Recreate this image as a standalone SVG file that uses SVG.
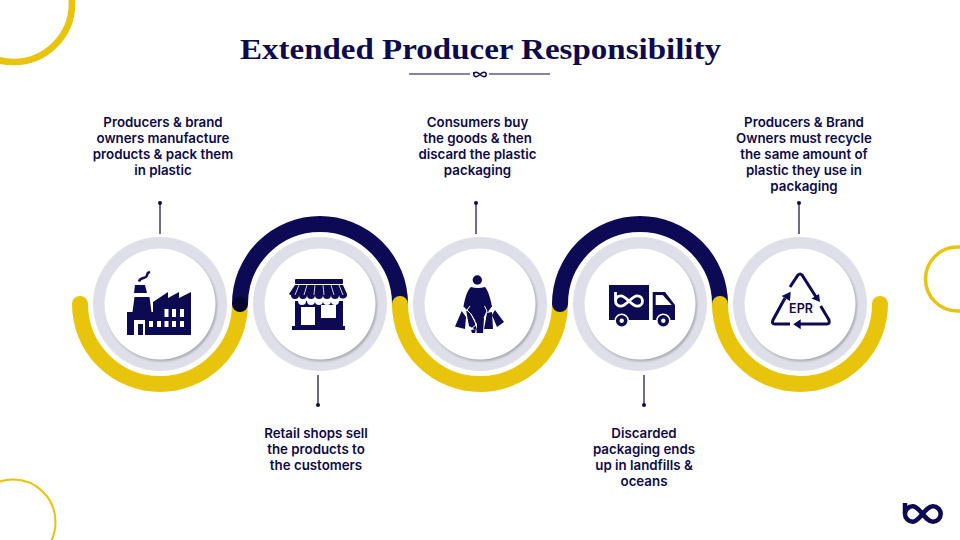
<svg xmlns="http://www.w3.org/2000/svg" width="960" height="540" viewBox="0 0 960 540">
<defs>
<filter id="blur" x="-20%" y="-20%" width="140%" height="140%"><feGaussianBlur stdDeviation="1"/></filter>
<g id="ring">
<circle r="67" fill="#dfdfea"/>
<circle cx="1.400" cy="1.800" r="55.500" fill="#a8a8b0" filter="url(#blur)"/>
<circle r="55.500" fill="#fff"/>
</g>
</defs>
<style>
.t{font-family:"Inter","Liberation Sans",sans-serif;font-size:13.300px;font-weight:600;fill:#0d0a4e;text-anchor:middle}
.y{fill:none;stroke:#e9c40c;stroke-width:16;stroke-linecap:round}
.b{fill:none;stroke:#0c0a55;stroke-width:16;stroke-linecap:round}
.l{stroke:#0d0a4e;stroke-width:1.200;fill:none}
.i{fill:#0c0a52}
.w{fill:#fff}
</style>
<rect width="960" height="540" fill="#fff"/>
<g id="decor" fill="none">
<circle cx="13.500" cy="3.500" r="58.500" stroke="#e9c40c" stroke-width="6.700"/>
<circle cx="957.500" cy="279" r="32" stroke="#e9c40c" stroke-width="3.500"/>
<circle cx="13" cy="522" r="42.500" stroke="#e9c40c" stroke-width="2"/>
<path d="M905 503V514A7.700 7.700 0 0 0 912.700 521.700C920 521.700 925 506.300 933 506.300A7.700 7.700 0 0 1 933 521.700C925 521.700 920 506.300 912.700 506.300A7.700 7.700 0 0 0 905 514" stroke="#0c0a52" stroke-width="4.500"/>
</g>
<text x="480.500" y="59" text-anchor="middle" font-family="'Liberation Serif',serif" font-weight="700" font-size="29.500" fill="#0d0a4e" textLength="481" lengthAdjust="spacingAndGlyphs">Extended Producer Responsibility</text>
<g id="rule" class="l"><path d="M409 74H470M489 74H550"/><path d="M473.800 72V74.500A2.200 2.200 0 0 0 476 76.700C479 76.700 481 72.300 484 72.300A2.200 2.200 0 0 1 484 76.700C481 76.700 479 72.300 476 72.300A2.200 2.200 0 0 0 473.800 74.500" stroke-width="1.500"/></g>
<g id="connectors">
<path class="y" d="M80 304A80 80 0 0 0 240 304"/>
<path class="b" d="M240 304A80 80 0 0 1 400 304"/>
<path class="y" d="M400 304A80 80 0 0 0 560 304"/>
<path class="b" d="M560 304A80 80 0 0 1 720 304"/>
<path class="y" d="M720 304A80 80 0 0 0 880 304"/>
<circle cx="240" cy="304" r="7.500" fill="#05052e"/>
<g class="l">
<path d="M160 203V234M318 375V405M476 203V234M644 375V405M799 203V234"/>
</g>
<g fill="#0d0a4e"><circle cx="160" cy="203" r="2"/><circle cx="318" cy="405" r="2"/><circle cx="476" cy="203" r="2"/><circle cx="644" cy="405" r="2"/><circle cx="799" cy="203" r="2"/></g>
</g>
<g id="n1"><use href="#ring" x="160" y="304"/>
<path class="i" d="M127 335V312H132.500L134.500 297H149.500L151.500 312H153V302L168 292V298L179 292V298L191 292V335Z"/>
<path class="w" d="M133.500 294H150.500V296H133.500Z"/>
<path class="i" d="M135 285H145L147 293H134Z"/>
<path d="M139 281.500C140 277 146 279 147 275.500S147 273 150 272" fill="none" stroke="#0c0a52" stroke-width="2.500"/>
<path class="w" d="M134 320H145V335H143V324H138V335H134ZM149 321h4v6h-4zM157 321h4v6h-4zM164.500 321h4v6h-4zM172 321h4v6h-4zM180 321h4v6h-4zM164.500 309h4v8h-4zM172 309h4v8h-4zM180 309h4v8h-4z"/>
<text class="t"><tspan x="163" y="127">Producers &amp; brand</tspan><tspan x="163" y="143">owners manufacture</tspan><tspan x="163" y="159">products &amp; pack them</tspan><tspan x="163" y="175">in plastic</tspan></text>
</g>
<g id="n2"><use href="#ring" x="320" y="304"/>
<rect class="i" x="295" y="279" width="48" height="5" rx="1"/>
<path class="i" d="M295 285H343L347 294A4 4 0 0 1 339 295A4 4 0 0 1 331 295A4 4 0 0 1 323 295A4 4 0 0 1 315 295A4 4 0 0 1 307 295A4 4 0 0 1 299 295A4 4 0 0 1 291 295A3 3 0 0 1 289 294Z"/>
<path d="M299 285L295 295M307 285L304 295M315 285L314 295M323 285L324 295M331 285L334 295M339 285L343 295" stroke="#fff" stroke-width="0.800" fill="none"/>
<path class="i" d="M295 301H298A4 4 0 0 0 306 301H307A4 4 0 0 0 315 301A4 4 0 0 0 323 301A4 4 0 0 0 331 301A4 4 0 0 0 339 301H343V326H345V330H292V326H295Z"/>
<path class="w" d="M301 307h14v18h-14zM321 305h15v13h-15z"/>
<text class="t"><tspan x="316" y="438">Retail shops sell</tspan><tspan x="316" y="454">the products to</tspan><tspan x="316" y="470">the customers</tspan></text>
</g>
<g id="n3"><use href="#ring" x="480" y="304"/>
<circle class="i" cx="477.300" cy="280" r="4.700"/>
<path class="i" d="M471 287Q477.500 289 485 287C488 290 491 300 492 307L489 311L486.500 313L484 318L483 333H476.500L477 324L475 321L471 314L467 310L463.500 307C464.500 300 467 290 471 287Z"/>
<path class="i" d="M461.700 311L455 326.500L465 329L466 317ZM466 310L469 326L477 330.500L474.500 322L470 313ZM487 313L484 329H493L492 312ZM495 310L504 322L497 327L492 315ZM471 330L476 329L475 333H472Z"/>
<path d="M463.500 307L467 311M470 306L467 310L471 314L475 321M484.500 306L487 311L484 318M492 307L489 311M477 324L471 329" stroke="#fff" stroke-width="1" fill="none"/>
<text class="t"><tspan x="477.500" y="127">Consumers buy</tspan><tspan x="477.500" y="143">the goods &amp; then</tspan><tspan x="477.500" y="159">discard the plastic</tspan><tspan x="477.500" y="175">packaging</tspan></text>
</g>
<g id="n4"><use href="#ring" x="640" y="304"/>
<path class="i" d="M609 285H649V320H609ZM652.700 292H665L675 305V320H652.700Z"/>
<path class="w" d="M655.700 295H662.700L671.700 305H655.700Z"/>
<g class="i" stroke="#fff" stroke-width="1.500"><circle cx="621.700" cy="320.700" r="6.500"/><circle cx="663.300" cy="320.700" r="6.500"/></g>
<circle class="w" cx="621.700" cy="320.700" r="2.200"/><circle class="w" cx="663.300" cy="320.700" r="2.200"/>
<path d="M615.500 292V301A5.200 5.200 0 0 0 620.700 306.200C627 306.200 631 295.800 637.300 295.800A5.200 5.200 0 0 1 637.300 306.200C631 306.200 627 295.800 620.700 295.800A5.200 5.200 0 0 0 615.500 301" fill="none" stroke="#fff" stroke-width="2.800"/>
<text class="t"><tspan x="644" y="438">Discarded</tspan><tspan x="644" y="454">packaging ends</tspan><tspan x="644" y="470">up in landfills &amp;</tspan><tspan x="644" y="486">oceans</tspan></text>
</g>
<g id="n5"><use href="#ring" x="800" y="304"/>
<path d="M790 287L798 275Q800 273 802 275L816.700 298M820.700 306L829 320Q830 324 827 324H800M790 324H774.500Q771.500 324 773 320L785 298" fill="none" stroke="#0c0a52" stroke-width="3"/>
<path class="i" d="M820 302L811.500 298.500L819 294ZM793.300 324.300L800.700 319.300V329.300ZM790.700 291.700L790 301L781.700 296Z"/>
<text x="801" y="313.300" text-anchor="middle" font-family="Inter,'Liberation Sans',sans-serif" font-weight="600" font-size="12.500" fill="#0d0a4e">EPR</text>
<text class="t"><tspan x="804" y="127">Producers &amp; Brand</tspan><tspan x="804" y="143">Owners must recycle</tspan><tspan x="804" y="159">the same amount of</tspan><tspan x="804" y="175">plastic they use in</tspan><tspan x="804" y="191">packaging</tspan></text>
</g>
</svg>
